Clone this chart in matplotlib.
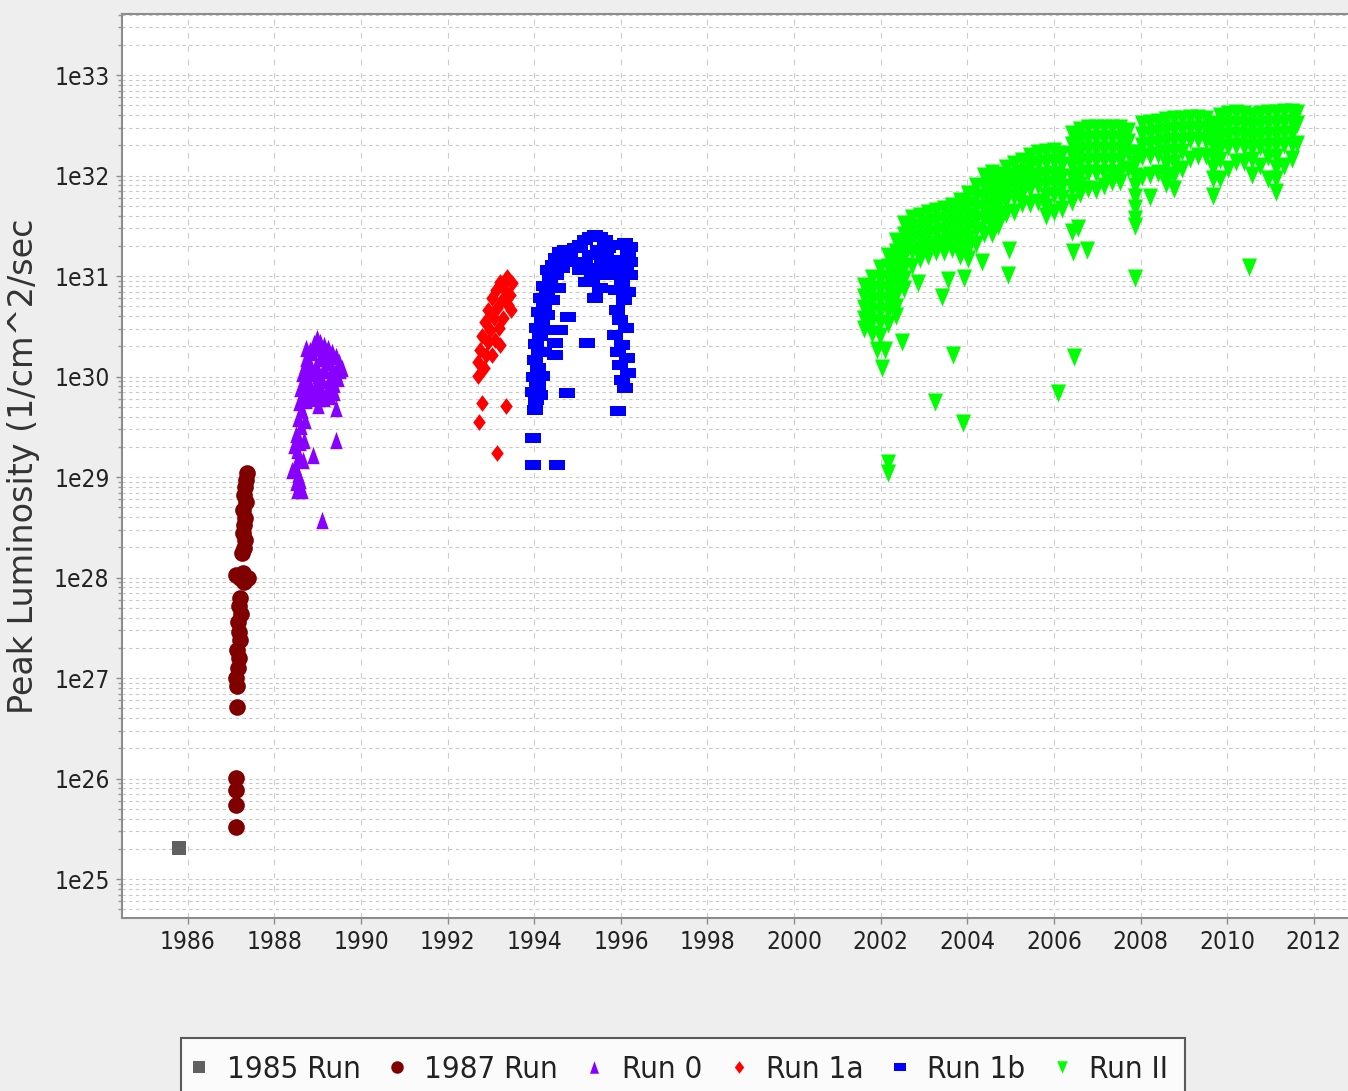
import os

import matplotlib
matplotlib.use("Agg")
import matplotlib.pyplot as plt
import numpy as np
from matplotlib import font_manager
from matplotlib.lines import Line2D
from matplotlib.ticker import FuncFormatter, LogLocator, MultipleLocator, NullFormatter

# Peak luminosity per store, read as (year, log10 of 1/cm^2/sec).
run1985_year = [1985.79]
run1985_log_lumi = [25.31]

run1987_year = [1987.36, 1987.34, 1987.32, 1987.29, 1987.34, 1987.27, 1987.32, 1987.29,
                1987.27, 1987.32, 1987.29, 1987.25, 1987.27, 1987.20, 1987.29, 1987.39,
                1987.11, 1987.20, 1987.18, 1987.23, 1987.16, 1987.18, 1987.20, 1987.13,
                1987.18, 1987.16, 1987.11, 1987.13, 1987.13, 1987.11, 1987.11, 1987.11,
                1987.11]
run1987_log_lumi = [29.04, 28.97, 28.90, 28.82, 28.75, 28.67, 28.59, 28.52,
                    28.44, 28.37, 28.29, 28.24, 28.05, 28.00, 27.96, 28.00,
                    28.03, 27.80, 27.72, 27.64, 27.56, 27.46, 27.38, 27.28,
                    27.20, 27.10, 27.00, 26.92, 26.71, 26.01, 25.89, 25.74,
                    25.52]

run0_year = [1988.52, 1988.49, 1988.54, 1988.47, 1988.56, 1988.52, 1988.59, 1988.49,
             1988.61, 1988.54, 1988.63, 1988.56, 1988.66, 1988.59, 1988.68, 1988.63,
             1988.70, 1988.73, 1988.82, 1988.91, 1988.98, 1989.05, 1989.14, 1989.23,
             1989.33, 1989.42, 1989.49, 1989.51, 1989.46, 1989.37, 1989.23, 1989.09,
             1988.96, 1988.82, 1988.77, 1988.86, 1988.96, 1989.05, 1989.19, 1989.33,
             1989.28, 1989.09, 1988.96, 1988.82, 1988.73,
             1988.73, 1988.86, 1989.00, 1989.14, 1989.28, 1989.56, 1989.42, 1989.14,
             1989.00, 1988.73, 1988.86, 1989.14, 1989.28, 1989.00, 1989.37, 1988.73,
             1988.70, 1988.68, 1988.66, 1988.40, 1988.45, 1988.59, 1988.63,
             1989.42, 1989.42, 1988.89, 1989.09, 1989.00]
run0_log_lumi = [28.87, 28.95, 29.03, 29.11, 29.19, 29.27, 29.35, 29.43,
                 29.51, 29.59, 29.67, 29.75, 29.82, 29.89, 29.97, 30.04,
                 30.11, 30.18, 30.26, 30.33, 30.38, 30.34, 30.31, 30.28,
                 30.24, 30.20, 30.14, 30.06, 29.99, 29.93, 29.89, 29.85,
                 29.81, 29.85, 29.97, 30.04, 30.11, 30.18, 30.14, 30.08,
                 30.00, 29.97, 29.93, 30.12, 29.91,
                 30.28, 30.24, 30.28, 30.24, 30.20, 30.08, 30.04, 30.06,
                 30.02, 30.04, 29.79, 29.79, 29.81, 29.89, 29.85, 29.77,
                 29.57, 29.37, 29.17, 29.07, 29.32, 28.97, 28.87,
                 29.69, 29.37, 29.22, 28.57, 29.72]

run1a_year = [1993.37, 1993.48, 1993.21, 1993.11, 1993.32, 1993.44, 1993.02, 1993.25,
              1993.14, 1993.39, 1992.93, 1993.07, 1993.27, 1992.86, 1992.97, 1993.18,
              1992.79, 1992.93, 1993.09, 1992.74, 1992.88, 1992.70, 1992.84, 1992.70,
              1993.02, 1993.46, 1993.21,
              1992.79, 1993.34, 1992.72, 1993.14]
run1a_log_lumi = [30.99, 30.93, 30.94, 30.86, 30.86, 30.81, 30.78, 30.76,
                  30.68, 30.71, 30.66, 30.58, 30.58, 30.54, 30.46, 30.48,
                  30.40, 30.34, 30.36, 30.26, 30.21, 30.14, 30.08, 30.01,
                  30.21, 30.66, 30.31,
                  29.74, 29.71, 29.55, 29.24]

run1b_year = [1994.04, 1993.97, 1994.06, 1993.99, 1994.08, 1994.01, 1994.11, 1994.04,
              1994.13, 1994.06, 1994.18, 1994.11, 1994.22, 1994.15, 1994.29, 1994.22,
              1994.36, 1994.31, 1994.43, 1994.50, 1994.41, 1994.55, 1994.29, 1994.24,
              1994.22, 1994.18, 1994.13, 1994.08,
              1994.50, 1994.59, 1994.71, 1994.82, 1994.94, 1995.05, 1995.17, 1995.28,
              1995.40, 1995.51, 1995.63, 1995.70, 1995.65, 1995.56, 1995.47, 1995.33,
              1995.19, 1995.05, 1994.94, 1994.78, 1994.64, 1995.28, 1995.47, 1995.17,
              1995.35, 1995.61, 1995.51,
              1995.93, 1996.09, 1996.21, 1996.16, 1995.97, 1995.84, 1996.12, 1996.21,
              1996.02, 1995.88, 1996.16, 1996.07, 1995.91, 1995.97, 1996.12, 1995.86,
              1996.02, 1995.93, 1996.14, 1995.97, 1996.16, 1996.02, 1996.09, 1996.21,
              1995.93,
              1994.78, 1995.21, 1994.48, 1994.75, 1994.01, 1993.97, 1993.97, 1994.52,
              1995.93, 1995.40, 1994.48, 1994.59]
run1b_log_lumi = [29.77, 29.85, 29.93, 30.00, 30.08, 30.16, 30.24, 30.32,
                  30.40, 30.48, 30.56, 30.64, 30.71, 30.78, 30.84, 30.90,
                  30.96, 31.06, 31.11, 31.01, 30.76, 30.88, 30.61, 30.46,
                  30.24, 30.01, 29.82, 29.92,
                  31.18, 31.24, 31.26, 31.23, 31.28, 31.31, 31.36, 31.39,
                  31.41, 31.39, 31.36, 31.28, 31.18, 31.11, 31.04, 30.98,
                  30.94, 31.06, 31.14, 31.14, 31.08, 31.21, 31.26, 31.14,
                  31.08, 31.01, 30.88,
                  31.31, 31.33, 31.29, 31.21, 31.16, 31.08, 31.11, 31.01,
                  30.94, 30.86, 30.84, 30.76, 30.66, 30.56, 30.48, 30.41,
                  30.31, 30.24, 30.18, 30.11, 30.04, 29.97, 29.89, 31.14,
                  31.01,
                  30.59, 30.33, 30.21, 29.84, 29.67, 29.39, 29.12, 29.12,
                  29.66, 30.78, 30.33, 30.46]

# Run II: stores grouped by date, one list of peak values per date
run2_col_year = [2001.61, 2001.80, 2001.98, 2002.17, 2002.35, 2002.54, 2002.72, 2002.91,
                 2003.09, 2003.28, 2003.46, 2003.64, 2003.83, 2004.01, 2004.20, 2004.38,
                 2004.57, 2004.71, 2004.89, 2005.08, 2005.26, 2005.45, 2005.63, 2005.82,
                 2006.00, 2006.18, 2006.42, 2006.60, 2006.79, 2006.97, 2007.15, 2007.34,
                 2007.52, 2007.71, 2007.87, 2008.03, 2008.22, 2008.40, 2008.59, 2008.77,
                 2008.96, 2009.14, 2009.33, 2009.51, 2009.67, 2009.83, 2010.02, 2010.20,
                 2010.39, 2010.57, 2010.76, 2010.94, 2011.13, 2011.31, 2011.50, 2011.61]
run2_col_log_lumi = [
    [30.90, 30.79, 30.68, 30.57, 30.47],
    [30.98, 30.87, 30.76, 30.65, 30.54, 30.42],
    [31.08, 30.97, 30.86, 30.75, 30.64, 30.53, 30.40],
    [31.20, 31.09, 30.98, 30.87, 30.76, 30.65, 30.52],
    [31.35, 31.24, 31.13, 31.02, 30.91, 30.80, 30.69, 30.60],
    [31.52, 31.41, 31.30, 31.19, 31.08, 30.97, 30.87],
    [31.58, 31.47, 31.36, 31.25, 31.10],
    [31.60, 31.49, 31.38, 31.27, 31.17],
    [31.63, 31.52, 31.41, 31.30, 31.20],
    [31.65, 31.54, 31.43, 31.32, 31.24],
    [31.67, 31.56, 31.45, 31.34, 31.24],
    [31.70, 31.59, 31.48, 31.37, 31.27],
    [31.75, 31.64, 31.53, 31.42, 31.31, 31.20],
    [31.82, 31.71, 31.60, 31.49, 31.38, 31.27, 31.17],
    [31.90, 31.79, 31.68, 31.57, 31.46, 31.32],
    [32.00, 31.89, 31.78, 31.67, 31.56, 31.42],
    [32.03, 31.93, 31.82, 31.71, 31.60, 31.49, 31.42],
    [32.01, 31.91, 31.80, 31.69, 31.58, 31.50],
    [32.07, 31.97, 31.86, 31.75, 31.62],
    [32.11, 32.00, 31.90, 31.79, 31.64],
    [32.14, 32.03, 31.93, 31.82, 31.72],
    [32.19, 32.08, 31.98, 31.87, 31.72],
    [32.22, 32.11, 32.00, 31.90, 31.74],
    [32.23, 32.12, 32.01, 31.91, 31.80, 31.69, 31.60],
    [32.24, 32.13, 32.02, 31.92, 31.81, 31.64],
    [32.21, 32.10, 31.99, 31.89, 31.78, 31.67],
    [32.41, 32.30, 32.19, 32.08, 31.98, 31.87, 31.74],
    [32.45, 32.34, 32.23, 32.12, 32.01, 31.91, 31.82],
    [32.47, 32.36, 32.25, 32.14, 32.03, 31.87],
    [32.47, 32.36, 32.25, 32.14, 32.03, 31.86],
    [32.47, 32.36, 32.25, 32.14, 32.03, 31.90],
    [32.47, 32.36, 32.25, 32.14, 32.03, 31.94],
    [32.47, 32.36, 32.25, 32.14, 32.03, 31.94],
    [32.44, 32.33, 32.22, 32.06],
    [32.22, 32.11, 32.00, 31.90, 31.79, 31.68, 31.57, 31.50],
    [32.51, 32.40, 32.29, 32.18, 31.99],
    [32.52, 32.41, 32.30, 32.19, 32.01],
    [32.53, 32.42, 32.31, 32.20, 32.03],
    [32.55, 32.44, 32.33, 32.22, 32.11, 32.00, 31.92],
    [32.56, 32.45, 32.34, 32.23, 32.12, 32.01, 31.87],
    [32.56, 32.45, 32.34, 32.23, 32.06],
    [32.57, 32.46, 32.35, 32.16],
    [32.57, 32.46, 32.35, 32.19],
    [32.56, 32.45, 32.34, 32.19],
    [32.51, 32.40, 32.29, 32.18, 32.07, 31.97, 31.80],
    [32.59, 32.48, 32.37, 32.26, 32.15, 31.97],
    [32.61, 32.50, 32.39, 32.28, 32.06],
    [32.62, 32.51, 32.40, 32.29, 32.13],
    [32.61, 32.50, 32.39, 32.28, 32.13],
    [32.59, 32.48, 32.37, 32.26, 32.15, 32.01],
    [32.61, 32.50, 32.39, 32.28, 32.09],
    [32.62, 32.51, 32.40, 32.29, 32.18, 31.97],
    [32.62, 32.51, 32.40, 32.29, 32.18, 32.07, 31.97, 31.84],
    [32.63, 32.52, 32.41, 32.30, 32.09],
    [32.63, 32.52, 32.41, 32.30, 32.16],
    [32.62, 32.51, 32.31],
]
# Run II stores well below the trend
run2_low_year = [2001.91, 2002.10, 2002.03, 2002.49, 2002.86, 2003.41, 2003.55, 2003.92,
                 2004.34, 2004.96, 2004.94, 2006.44, 2006.76, 2006.55, 2006.42, 2003.67,
                 2003.25, 2003.90, 2006.09, 2006.46, 2002.17, 2002.17, 2007.87, 2008.22,
                 2010.50]
run2_low_log_lumi = [30.26, 30.26, 30.08, 30.34, 30.93, 30.79, 30.96, 30.98,
                     31.14, 31.26, 31.01, 31.24, 31.26, 31.48, 31.44, 30.21,
                     29.75, 29.54, 29.84, 30.19, 29.14, 29.04, 30.98, 31.79,
                     31.09]

run_labels = ["1985 Run", "1987 Run", "Run 0", "Run 1a", "Run 1b", "Run II"]
run_colors = ["#606060", "#800000", "#8800ff", "#ff0000", "#0000ff", "#00ff00"]

# marker glyphs, slightly taller than wide
bar_marker = [(-1.0, -0.62), (1.0, -0.62), (1.0, 0.62), (-1.0, 0.62), (-1.0, -0.62)]
diamond_marker = [(0.0, 1.0), (0.75, 0.0), (0.0, -1.0), (-0.75, 0.0), (0.0, 1.0)]
tri_up_marker = [(0.0, 0.7), (0.5, -0.7), (-0.5, -0.7), (0.0, 0.7)]
tri_down_marker = [(0.0, -0.6), (0.5, 0.6), (-0.5, 0.6), (0.0, -0.6)]
run_markers = ["s", "o", tri_up_marker, diamond_marker, bar_marker, tri_down_marker]
run_msize = [10, 12, 12.5, 12, 11.5, 13]


def condensed_font():
    """Regular condensed sans face if one is installed, else Liberation Sans."""
    prefixes = ("liberationsansnarrow", "dejavusanscondensed", "robotocondensed",
                "notosans-condensed", "opensans-condensed", "opensanscondensed")
    skip = ("bold", "light", "italic", "oblique", "medium", "thin", "black",
            "semi", "extra", "ultra", "mono")
    found = {}
    for f in font_manager.fontManager.ttflist:
        base = os.path.basename(f.fname).lower()
        if any(s in base for s in skip):
            continue
        for p in prefixes:
            if base.startswith(p):
                found.setdefault(p, f.fname)
    for p in prefixes:
        if p in found:
            return font_manager.FontProperties(fname=found[p])
    return font_manager.FontProperties(family=["Liberation Sans", "DejaVu Sans"])


def fit_size(fig, props, sample, target_px, base=20.0):
    """Font size at which `sample` spans `target_px` pixels."""
    t = fig.text(0, 0, sample, fontproperties=props, size=base)
    w = t.get_window_extent(renderer=fig.canvas.get_renderer()).width
    t.remove()
    return base * target_px / w


run2_year = []
run2_log_lumi = []
for yr, vals in zip(run2_col_year, run2_col_log_lumi):
    run2_year.extend([yr] * len(vals))
    run2_log_lumi.extend(vals)
run2_year += run2_low_year
run2_log_lumi += run2_low_log_lumi

series = [
    (run1985_year, run1985_log_lumi),
    (run1987_year, run1987_log_lumi),
    (run0_year, run0_log_lumi),
    (run1a_year, run1a_log_lumi),
    (run1b_year, run1b_log_lumi),
    (run2_year, run2_log_lumi),
]

fig = plt.figure(figsize=(13.48, 10.91), dpi=100, facecolor="#eeeeee")
ax = fig.add_axes([0.0905, 0.1586, 0.9095, 0.8286])
ax.set_facecolor("white")

narrow = condensed_font()
tick_size = fit_size(fig, narrow, "1986", 56)
legend_size = fit_size(fig, narrow, "1985 Run", 134)
label_props = font_manager.FontProperties(family="DejaVu Sans")
label_size = fit_size(fig, label_props, "Peak Luminosity (1/cm^2/sec", 495)

for (yrs, logs), color, marker, ms in zip(series, run_colors, run_markers, run_msize):
    ax.plot(yrs, 10.0 ** np.asarray(logs), linestyle="none", marker=marker,
            markersize=ms, color=color, markeredgewidth=0)

ax.set_yscale("log")
ax.set_xlim(1984.48, 2012.79)
ax.set_ylim(4.1e24, 4.05e33)

ax.xaxis.set_major_locator(MultipleLocator(2))
ax.yaxis.set_major_locator(LogLocator(base=10, numticks=20))
ax.yaxis.set_minor_locator(LogLocator(base=10, subs=np.arange(2, 10), numticks=20))
ax.yaxis.set_minor_formatter(NullFormatter())
ax.yaxis.set_major_formatter(FuncFormatter(lambda v, pos: f"1e{int(round(np.log10(v)))}"))

ax.yaxis.grid(True, which="both", color="#c8c8c8", linestyle=(0, (3, 3)), linewidth=0.8)
ax.xaxis.grid(True, which="major", color="#cccccc", linestyle=(0, (5, 7)), linewidth=0.8)
ax.set_axisbelow(True)

for side in ("left", "bottom", "top"):
    ax.spines[side].set_color("#8c8c8c")
    ax.spines[side].set_linewidth(1.5)
ax.spines["right"].set_visible(False)

ax.tick_params(axis="both", which="major", direction="out", length=4, width=1,
               color="#8c8c8c", labelcolor="#222222", pad=5)
ax.tick_params(axis="y", which="minor", direction="out", length=3, width=1, color="#9a9a9a")
for lbl in ax.get_xticklabels() + ax.get_yticklabels():
    lbl.set_fontproperties(narrow)
    lbl.set_fontsize(tick_size)

ax.set_ylabel("Peak Luminosity (1/cm^2/sec", fontproperties=label_props,
              fontsize=label_size, color="#333333")
ax.yaxis.set_label_coords(-0.067, 0.5)

handles = [Line2D([], [], linestyle="none", marker=m, markersize=9, color=c,
                  markeredgewidth=0)
           for m, c in zip(run_markers, run_colors)]
legend_props = narrow.copy()
legend_props.set_size(legend_size)
leg = fig.legend(handles, run_labels, loc="upper left", bbox_to_anchor=(0.134, 0.0486),
                 ncol=6, frameon=True, fancybox=False, borderaxespad=0,
                 handlelength=0.1, handletextpad=0.82, columnspacing=1.12,
                 borderpad=0.55, prop=legend_props)
leg.get_frame().set_edgecolor("#333333")
leg.get_frame().set_linewidth(1.5)
leg.get_frame().set_facecolor("white")
for txt in leg.get_texts():
    txt.set_color("#222222")

fig.savefig("out.png", dpi=100, facecolor=fig.get_facecolor())
